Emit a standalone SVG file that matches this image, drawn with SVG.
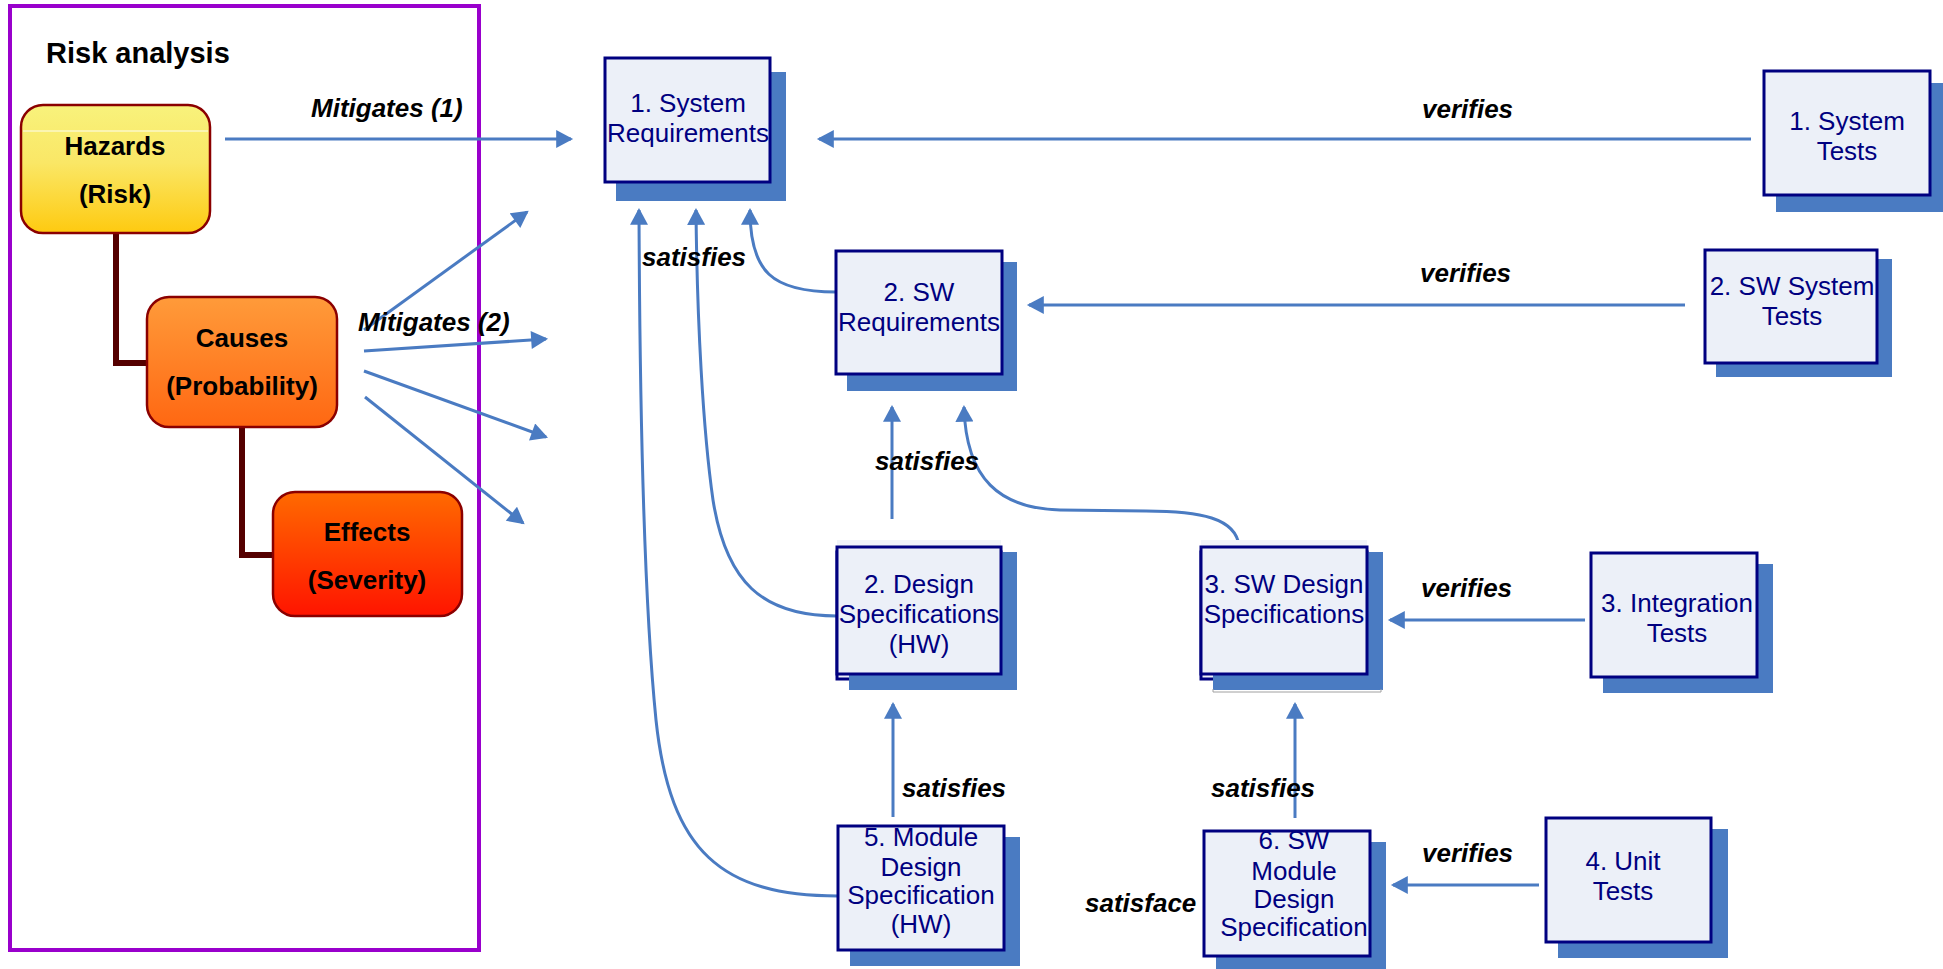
<svg xmlns="http://www.w3.org/2000/svg" width="1943" height="969" viewBox="0 0 1943 969">
  <defs>
    <style>
      .box { fill: #ECF0F8; stroke: #000080; stroke-width: 3; }
      .back { fill: #ECF0F8; stroke: #000080; stroke-width: 3; }
      .shadow { fill: #4A7BC2; }
      .ntext { font-family: "Liberation Sans", Arial, sans-serif; font-size: 26px; fill: #000080; text-anchor: middle; }
      .rtext { font-family: "Liberation Sans", Arial, sans-serif; font-size: 26px; font-weight: bold; fill: #000000; text-anchor: middle; }
      .lbl { font-family: "Liberation Sans", Arial, sans-serif; font-size: 26px; font-weight: bold; font-style: italic; fill: #000000; }
      .conn { fill: none; stroke: #4A7BC2; stroke-width: 3; marker-end: url(#arr); }
      .tree { fill: none; stroke: #550000; stroke-width: 6; }
      .rbox { stroke: #8B0000; stroke-width: 2.5; }
    </style>
    <marker id="arr" markerUnits="userSpaceOnUse" markerWidth="18" markerHeight="18" viewBox="0 0 16 17" refX="14" refY="8.5" orient="auto">
      <path d="M0,0 L16,8.5 L0,17 z" fill="#4A7BC2"/>
    </marker>
    <linearGradient id="gHaz" x1="0" y1="0" x2="0" y2="1">
      <stop offset="0" stop-color="#F8F27C"/>
      <stop offset="0.45" stop-color="#FAE766"/>
      <stop offset="1" stop-color="#FECA10"/>
    </linearGradient>
    <linearGradient id="gCau" x1="0" y1="0" x2="0" y2="1">
      <stop offset="0" stop-color="#FF9B3A"/>
      <stop offset="1" stop-color="#FF6712"/>
    </linearGradient>
    <linearGradient id="gEff" x1="0" y1="0" x2="0" y2="1">
      <stop offset="0" stop-color="#FF6A00"/>
      <stop offset="1" stop-color="#FF1400"/>
    </linearGradient>
  </defs>

  <rect width="1943" height="969" fill="#FFFFFF"/>

  <!-- risk analysis frame -->
  <g id="risk-analysis">
    <rect x="10" y="6" width="469" height="944" fill="none" stroke="#9900CC" stroke-width="4"/>
    <text x="46" y="63" font-family="Liberation Sans, Arial, sans-serif" font-size="29" font-weight="bold" fill="#000000">Risk analysis</text>
  </g>

  <!-- hierarchy links inside the risk frame -->
  <g id="tree-links">
    <path class="tree" d="M116,233 V363 H148"/>
    <path class="tree" d="M242,427 V555 H274"/>
  </g>

  <g id="hazards">
    <rect class="rbox" x="21" y="105" width="189" height="128" rx="22" fill="url(#gHaz)"/>
    <line x1="23" y1="131" x2="208" y2="131" stroke="#FFFFFF" stroke-width="1" opacity="0.9"/>
    <text class="rtext" x="115" y="155">Hazards</text>
    <text class="rtext" x="115" y="203">(Risk)</text>
  </g>

  <g id="causes">
    <rect class="rbox" x="147" y="297" width="190" height="130" rx="22" fill="url(#gCau)"/>
    <text class="rtext" x="242" y="347">Causes</text>
    <text class="rtext" x="242" y="395">(Probability)</text>
  </g>

  <g id="effects">
    <rect class="rbox" x="273" y="492" width="189" height="124" rx="22" fill="url(#gEff)"/>
    <text class="rtext" x="367" y="541">Effects</text>
    <text class="rtext" x="367" y="589">(Severity)</text>
  </g>

  <!-- connectors -->
  <g id="connectors">
    <path class="conn" d="M225,139 H571"/>
    <path class="conn" d="M364,330 L527,212"/>
    <path class="conn" d="M364,351 L546,339"/>
    <path class="conn" d="M364,371 L546,437"/>
    <path class="conn" d="M365,397 L523,523"/>

    <path class="conn" d="M1751,139 H819"/>
    <path class="conn" d="M1685,305 H1029"/>
    <path class="conn" d="M1585,620 H1390"/>
    <path class="conn" d="M1539,885 H1393"/>

    <path class="conn" d="M836,292 C772,292 750,272 750,210"/>
    <path class="conn" d="M838,896 C722,896 670,852 656,720 C648,640 640,480 639,210"/>
    <path class="conn" d="M837,616 C762,616 726,582 713,500 C703,430 697,320 696,210"/>
    <path class="conn" d="M892,519 V407"/>
    <path class="conn" d="M1239,546 C1236,518 1200,511 1146,511 L1060,510 C1000,508 966,480 964,407"/>
    <path class="conn" d="M893,817 V704"/>
    <path class="conn" d="M1295,818 V704"/>
  </g>

  <!-- connector labels -->
  <g id="labels">
    <text class="lbl" x="311" y="117">Mitigates (1)</text>
    <text class="lbl" x="358" y="331">Mitigates (2)</text>
    <text class="lbl" x="642" y="266">satisfies</text>
    <text class="lbl" x="1422" y="118">verifies</text>
    <text class="lbl" x="1420" y="282">verifies</text>
    <text class="lbl" x="875" y="470">satisfies</text>
    <text class="lbl" x="1421" y="597">verifies</text>
    <text class="lbl" x="902" y="797">satisfies</text>
    <text class="lbl" x="1211" y="797">satisfies</text>
    <text class="lbl" x="1085" y="912">satisface</text>
    <text class="lbl" x="1422" y="862">verifies</text>
  </g>

  <g id="system-requirements">
    <rect class="shadow" x="616" y="72" width="170" height="129"/>
    <rect class="box" x="605" y="58" width="165" height="124"/>
    <text class="ntext" x="688" y="112">1. System</text>
    <text class="ntext" x="688" y="142">Requirements</text>
  </g>

  <g id="sw-requirements">
    <rect class="shadow" x="847" y="262" width="170" height="129"/>
    <rect class="box" x="836" y="251" width="166" height="123"/>
    <text class="ntext" x="919" y="301">2. SW</text>
    <text class="ntext" x="919" y="331">Requirements</text>
  </g>

  <g id="system-tests">
    <rect class="shadow" x="1776" y="83" width="170" height="129"/>
    <rect class="box" x="1764" y="71" width="166" height="124"/>
    <text class="ntext" x="1847" y="130">1. System</text>
    <text class="ntext" x="1847" y="160">Tests</text>
  </g>

  <g id="sw-system-tests">
    <rect class="shadow" x="1716" y="259" width="176" height="118"/>
    <rect class="box" x="1705" y="250" width="172" height="113"/>
    <text class="ntext" x="1792" y="295">2. SW System</text>
    <text class="ntext" x="1792" y="325">Tests</text>
  </g>

  <g id="design-specifications-hw">
    <rect x="837" y="540" width="164" height="7" fill="#F1F4F9"/>
    <rect class="back" x="837" y="552" width="164" height="127"/>
    <rect class="shadow" x="849" y="552" width="168" height="138"/>
    <rect class="box" x="837" y="547" width="164" height="127"/>
    <text class="ntext" x="919" y="593">2. Design</text>
    <text class="ntext" x="919" y="623">Specifications</text>
    <text class="ntext" x="919" y="653">(HW)</text>
  </g>

  <g id="sw-design-specifications">
    <rect x="1201" y="540" width="166" height="7" fill="#F1F4F9"/>
    <rect class="back" x="1201" y="552" width="166" height="127"/>
    <rect class="shadow" x="1213" y="552" width="170" height="138"/>
    <path d="M1213,689 V692 H1381 V689" fill="none" stroke="#A0A0A0" stroke-width="1"/>
    <rect class="box" x="1201" y="547" width="166" height="127"/>
    <text class="ntext" x="1284" y="593">3. SW Design</text>
    <text class="ntext" x="1284" y="623">Specifications</text>
  </g>

  <g id="integration-tests">
    <rect class="shadow" x="1603" y="564" width="170" height="129"/>
    <rect class="box" x="1591" y="553" width="166" height="124"/>
    <text class="ntext" x="1677" y="612">3. Integration</text>
    <text class="ntext" x="1677" y="642">Tests</text>
  </g>

  <g id="unit-tests">
    <rect class="shadow" x="1558" y="829" width="170" height="129"/>
    <rect class="box" x="1546" y="818" width="165" height="124"/>
    <text class="ntext" x="1623" y="870">4. Unit</text>
    <text class="ntext" x="1623" y="900">Tests</text>
  </g>

  <g id="module-design-specification-hw">
    <rect class="shadow" x="850" y="837" width="170" height="129"/>
    <rect class="box" x="838" y="826" width="166" height="124"/>
    <text class="ntext" x="921" y="846">5. Module</text>
    <text class="ntext" x="921" y="876">Design</text>
    <text class="ntext" x="921" y="904">Specification</text>
    <text class="ntext" x="921" y="933">(HW)</text>
  </g>

  <g id="sw-module-design-specification">
    <rect class="shadow" x="1216" y="842" width="170" height="129"/>
    <rect class="box" x="1204" y="831" width="166" height="125"/>
    <text class="ntext" x="1294" y="849">6. SW</text>
    <text class="ntext" x="1294" y="880">Module</text>
    <text class="ntext" x="1294" y="908">Design</text>
    <text class="ntext" x="1294" y="936">Specification</text>
  </g>
</svg>
